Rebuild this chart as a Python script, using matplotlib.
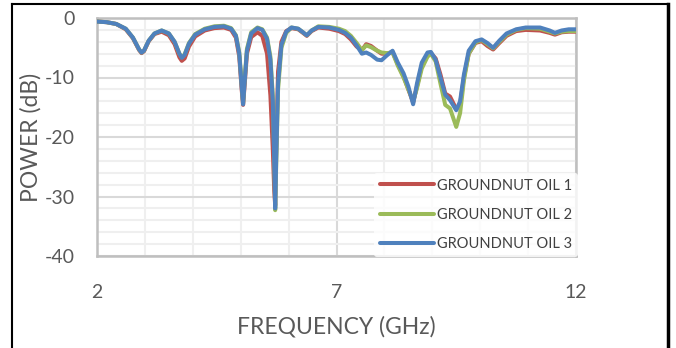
import matplotlib
matplotlib.use("Agg")
import matplotlib.pyplot as plt
from matplotlib.lines import Line2D
from matplotlib.ticker import MultipleLocator, FixedLocator

plt.rcParams['font.family'] = ['Lato', 'DejaVu Sans']
plt.rcParams['axes.unicode_minus'] = False

# frequency points (GHz)
freq = [2.00, 2.20, 2.40, 2.60, 2.75, 2.88, 2.93, 2.98, 3.08, 3.20,
        3.35, 3.50, 3.62, 3.72, 3.77, 3.83, 3.92, 4.05, 4.25, 4.45,
        4.65, 4.80, 4.90, 4.97, 5.02, 5.05, 5.08, 5.13, 5.22, 5.35,
        5.45, 5.55, 5.62, 5.67, 5.70, 5.72, 5.74, 5.78, 5.85, 5.95,
        6.06, 6.20, 6.30, 6.38, 6.48, 6.62, 6.85, 7.05, 7.18, 7.30,
        7.42, 7.53, 7.62, 7.72, 7.85, 7.94, 8.05, 8.17, 8.28, 8.40,
        8.50, 8.60, 8.68, 8.78, 8.90, 8.97, 9.07, 9.17, 9.27, 9.37,
        9.50, 9.58, 9.66, 9.76, 9.90, 10.03, 10.15, 10.27, 10.40, 10.55,
        10.75, 10.95, 11.25, 11.45, 11.56, 11.70, 11.85, 12.00]

oil3 = [-0.6, -0.7, -1.0, -1.8, -3.3, -5.3, -5.8, -5.5, -3.8, -2.6,
        -2.1, -2.6, -4.0, -6.0, -6.7, -6.2, -4.3, -2.8, -1.9, -1.5,
        -1.4, -1.8, -3.0, -6.0, -11.5, -14.5, -11.0, -5.5, -2.6, -1.7,
        -2.0, -3.5, -7.0, -14.0, -24.0, -32.0, -24.0, -11.0, -4.5, -2.3,
        -1.6, -1.8, -2.4, -2.9, -2.1, -1.5, -1.6, -2.0, -2.5, -3.3,
        -4.6, -6.0, -5.8, -6.2, -7.0, -7.1, -6.3, -5.5, -7.5, -9.3,
        -11.5, -14.5, -11.0, -7.5, -5.8, -5.7, -7.0, -10.0, -12.9, -13.8,
        -15.5, -14.0, -9.5, -5.5, -3.9, -3.6, -4.2, -5.0, -3.8, -2.6,
        -1.9, -1.6, -1.6, -2.1, -2.5, -2.1, -1.9, -1.9]

oil1 = [-0.6, -0.7, -1.0, -1.9, -3.4, -5.4, -5.9, -5.6, -3.9, -2.7,
        -2.3, -2.9, -4.4, -6.6, -7.2, -6.8, -4.8, -3.1, -2.1, -1.7,
        -1.6, -2.0, -3.3, -6.5, -12.0, -14.6, -11.5, -6.0, -3.2, -2.4,
        -3.0, -6.0, -13.0, -22.0, -29.0, -31.5, -22.0, -9.0, -4.0, -2.2,
        -1.7, -1.9, -2.5, -3.0, -2.2, -1.6, -1.8, -2.2, -2.7, -3.6,
        -4.8, -5.4, -4.4, -4.7, -5.5, -6.0, -6.0, -5.7, -7.8, -9.8,
        -12.0, -14.2, -11.5, -8.0, -6.2, -5.9, -6.8, -9.5, -12.7, -13.2,
        -15.3, -14.5, -10.0, -6.0, -4.2, -3.9, -4.7, -5.3, -4.2, -3.0,
        -2.2, -2.0, -2.1, -2.5, -2.8, -2.4, -2.3, -2.3]

oil2 = [-0.6, -0.7, -1.0, -1.8, -3.3, -5.3, -5.8, -5.5, -3.8, -2.6,
        -2.1, -2.6, -4.0, -6.0, -6.6, -6.1, -4.2, -2.7, -1.8, -1.4,
        -1.3, -1.7, -2.9, -5.8, -11.0, -14.3, -10.5, -5.2, -2.4, -1.6,
        -1.9, -3.3, -6.5, -13.0, -23.0, -32.3, -25.0, -12.0, -5.0, -2.5,
        -1.6, -1.8, -2.4, -2.9, -2.1, -1.4, -1.5, -1.8, -2.2, -3.0,
        -4.2, -5.4, -4.6, -4.9, -5.5, -5.8, -5.9, -5.8, -8.0, -10.0,
        -12.0, -14.0, -11.8, -8.5, -6.5, -6.0, -7.3, -11.0, -14.6, -15.2,
        -18.3, -16.0, -10.5, -6.0, -4.1, -3.7, -4.4, -5.1, -4.0, -2.8,
        -2.0, -1.7, -1.8, -2.3, -2.6, -2.3, -2.2, -2.2]

labels = ['GROUNDNUT OIL 1', 'GROUNDNUT OIL 2', 'GROUNDNUT OIL 3']
colors = ['#C0504D', '#9BBB59', '#4F81BD']
xticks = [2, 7, 12]

fig = plt.figure(figsize=(6.76, 3.48), dpi=100)
ax = fig.add_axes([97 / 676, 1 - 256 / 348, 479 / 676, 238 / 348])

for y, lab, c in zip([oil1, oil2, oil3], labels, colors):
    ax.plot(freq, y, color=c, lw=2.9, label=lab,
            solid_joinstyle='round', solid_capstyle='round', zorder=3)

ax.set_xlim(2, 12)
ax.set_ylim(-40, 0)
ax.xaxis.set_major_locator(FixedLocator(xticks))
ax.xaxis.set_minor_locator(MultipleLocator(1))
ax.yaxis.set_major_locator(MultipleLocator(10))
ax.yaxis.set_minor_locator(MultipleLocator(2))
ax.grid(which='major', color='#D9D9D9', lw=1.5, zorder=1)
ax.grid(which='minor', color='#EFEFEF', lw=1.5, zorder=0)
ax.set_axisbelow(True)

for s in ax.spines.values():
    s.set_color('#BFBFBF')
    s.set_linewidth(1.8)

ax.tick_params(which='both', length=0, labelsize=14, labelcolor='#595959')
ax.tick_params(axis='x', pad=20)
ax.tick_params(axis='y', pad=16)

ax.set_xlabel('FREQUENCY (GHz)', fontsize=16.5, color='#595959')
ax.set_ylabel('POWER (dB)', fontsize=16.5, color='#595959')
ax.xaxis.set_label_coords(0.5, -0.25)
ax.yaxis.set_label_coords(-0.115, 0.5)

leg = ax.legend(loc='upper left', bbox_to_anchor=(0.578, 0.35), frameon=True,
                fontsize=10.5, handlelength=3.7, handletextpad=0.25,
                labelspacing=1.05, borderaxespad=0.0, borderpad=0.4)
leg.get_frame().set_facecolor('white')
leg.get_frame().set_edgecolor('none')
for t in leg.get_texts():
    t.set_color('#404040')

# outer chart frame
fig.add_artist(Line2D([12 / 676, 12 / 676], [0, 1 - 4 / 348], color='black', lw=1.5))
fig.add_artist(Line2D([12 / 676, 668 / 676], [1 - 4 / 348, 1 - 4 / 348], color='black', lw=1.5))
fig.add_artist(Line2D([668 / 676, 668 / 676], [0, 1 - 4 / 348], color='black', lw=2.5))

fig.savefig('out.png', dpi=100)
